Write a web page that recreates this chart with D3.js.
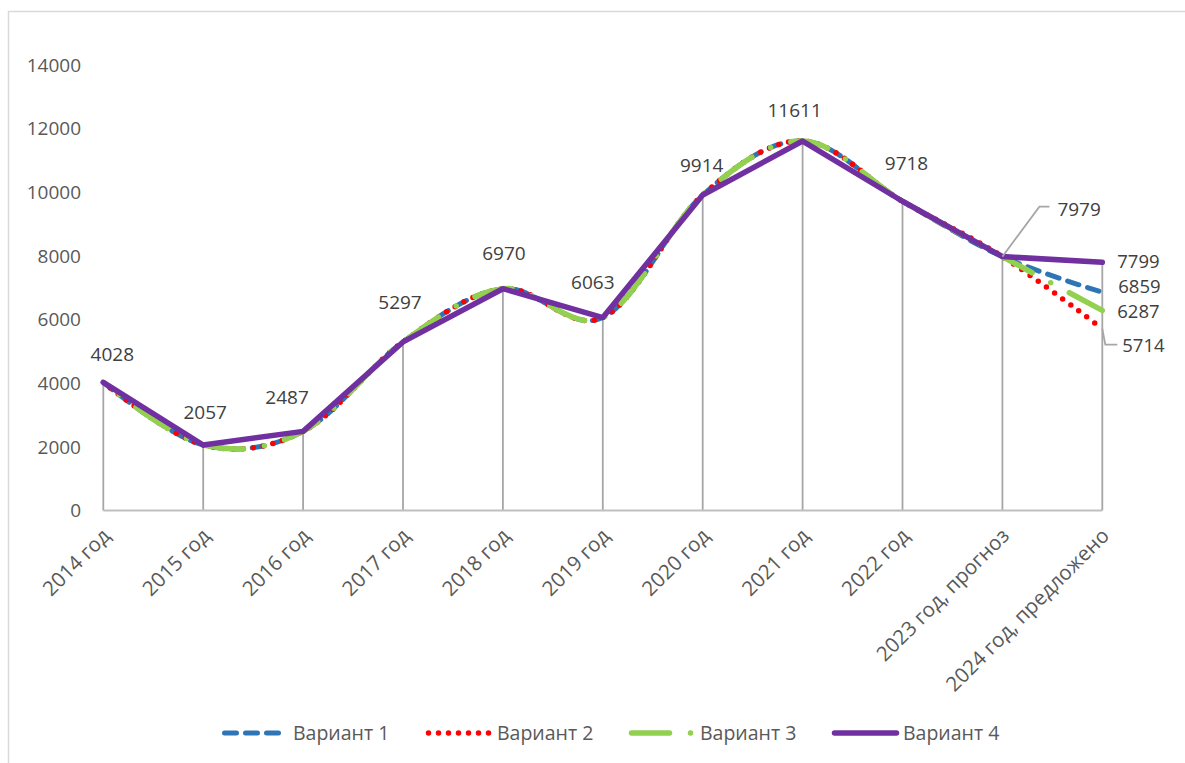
<!DOCTYPE html>
<html><head><meta charset="utf-8">
<script src="https://cdn.jsdelivr.net/npm/d3@7"></script>
<style>
html,body{margin:0;padding:0;background:#fff;}
svg{display:block;font-family:"Open Sans",sans-serif;}
</style></head>
<body>
<svg id="c" width="1185" height="763"></svg>
<script>
const categories = ["2014 год","2015 год","2016 год","2017 год","2018 год","2019 год","2020 год","2021 год","2022 год","2023 год, прогноз","2024 год, предложено"];
const variant1 = [4028,2057,2487,5297,6970,6063,9914,11611,9718,7979,6859];
const variant2 = [4028,2057,2487,5297,6970,6063,9914,11611,9718,7979,5714];
const variant3 = [4028,2057,2487,5297,6970,6063,9914,11611,9718,7979,6287];
const variant4 = [4028,2057,2487,5297,6970,6063,9914,11611,9718,7979,7799];
const seriesNames = ["Вариант 1","Вариант 2","Вариант 3","Вариант 4"];
const yTicks = [0,2000,4000,6000,8000,10000,12000,14000];

// label offsets (text centre relative to point), style only
const commonLabelOffsets = [[9,-28],[2,-33],[-16,-34],[-3,-40],[1,-35],[-10,-35],[-1,-30],[-8,-31],[4,-38]];

const svg = d3.select("#c");
const x = d3.scalePoint().domain(categories).range([103.3, 1102.3]);
const y = d3.scaleLinear().domain([0,14000]).range([510.5, 65]);

// chart border
svg.append("rect").attr("x",8.5).attr("y",11.5).attr("width",1300).attr("height",900)
  .attr("fill","none").attr("stroke","#D9D9D9").attr("stroke-width",1.5);

const all = [variant1,variant2,variant3,variant4];
// drop lines
const maxVals = categories.map((c,i)=>d3.max(all,s=>s[i]));
svg.append("g").selectAll("line").data(categories).join("line")
  .attr("x1",d=>x(d)).attr("x2",d=>x(d))
  .attr("y1",(d,i)=>y(maxVals[i])).attr("y2",y(0))
  .attr("stroke","#A6A6A6").attr("stroke-width",1.8);

// x axis line
svg.append("line").attr("x1",x(categories[0])).attr("x2",x(categories[categories.length-1]))
  .attr("y1",y(0)).attr("y2",y(0)).attr("stroke","#BFBFBF").attr("stroke-width",1.8);

// y tick labels
svg.append("g").selectAll("text").data(yTicks).join("text")
  .attr("x",81).attr("y",d=>y(d)).attr("dy","0.35em").attr("text-anchor","end")
  .attr("fill","#595959").attr("font-size",19).text(d=>d);

// x tick labels
svg.append("g").selectAll("text").data(categories).join("text")
  .attr("transform",d=>`translate(${x(d)+3},${532}) rotate(-45)`)
  .attr("text-anchor","end").attr("dy","0.35em")
  .attr("fill","#595959").attr("font-size",20.5).text(d=>d);

const styles = [
  {color:"#2E75B6", dash:"12,9", period:21, endAt:null, width:5, curve:d3.curveCardinal.tension(0)},
  {color:"#FF0000", dash:"0,10", period:10, endAt:0, width:5.5, curve:d3.curveCardinal.tension(0)},
  {color:"#92D050", dash:"38,21,0,21", period:80, endAt:38, width:5.5, curve:d3.curveCardinal.tension(0)},
  {color:"#7030A0", dash:null, period:null, endAt:null, width:5.5, curve:d3.curveLinear}
];

all.forEach((s,k)=>{
  const line = d3.line().x((d,i)=>x(categories[i])).y(d=>y(d)).curve(styles[k].curve);
  const p = svg.append("path").datum(s).attr("d",line).attr("fill","none")
    .attr("stroke",styles[k].color).attr("stroke-width",styles[k].width)
    .attr("stroke-linecap","round").attr("stroke-linejoin","round")
    .attr("stroke-dasharray",styles[k].dash);
  if (styles[k].endAt !== null) {
    const L = p.node().getTotalLength();
    const per = styles[k].period;
    const o = (((styles[k].endAt - L) % per) + per) % per;
    p.attr("stroke-dashoffset", o);
  }
});

// common data labels
const lab = svg.append("g").attr("fill","#404040").attr("font-size",19);
commonLabelOffsets.forEach((o,i)=>{
  lab.append("text").attr("x",x(categories[i])+o[0]).attr("y",y(variant4[i])+o[1])
    .attr("dy","0.35em").attr("text-anchor","middle").text(variant4[i]);
});
// 2023 label with leader
const i23 = 9;
const p23 = [x(categories[i23]), y(variant4[i23])];
svg.append("polyline").attr("points",[p23,[p23[0]+37,p23[1]-50],[p23[0]+47,p23[1]-50]].map(p=>p.join(",")).join(" "))
  .attr("fill","none").attr("stroke","#A6A6A6").attr("stroke-width",1.8);
lab.append("text").attr("x",p23[0]+55).attr("y",p23[1]-47).attr("dy","0.35em").text(variant4[i23]);

// 2024 labels
const i24 = 10;
const x24 = x(categories[i24]);
const endOffsets = [[16,-6],[20,17],[15,1],[15,-1]];
const endLab = svg.append("g").attr("fill","#404040").attr("font-size",18.5);
all.forEach((s,k)=>{
  endLab.append("text").attr("x",x24+endOffsets[k][0]).attr("y",y(s[i24])+endOffsets[k][1])
    .attr("dy","0.35em").text(s[i24]);
});
// leader for variant 2 label
const p2 = [x24, y(variant2[i24])];
svg.append("polyline").attr("points",[p2,[p2[0]+3,p2[1]+16],[p2[0]+15,p2[1]+16]].map(p=>p.join(",")).join(" "))
  .attr("fill","none").attr("stroke","#A6A6A6").attr("stroke-width",1.8);

// legend
const leg = svg.append("g");
const legX = [222,426,629,832];
seriesNames.forEach((n,k)=>{
  const x0 = legX[k];
  leg.append("line").attr("x1",x0+2.5).attr("x2",x0+64.5).attr("y1",733).attr("y2",733)
    .attr("stroke",styles[k].color).attr("stroke-width",styles[k].width)
    .attr("stroke-linecap","round").attr("stroke-dasharray",styles[k].dash);
  leg.append("text").attr("x",x0+71).attr("y",733).attr("dy","0.35em")
    .attr("fill","#595959").attr("font-size",19.5).text(n);
});
</script>
</body></html>
